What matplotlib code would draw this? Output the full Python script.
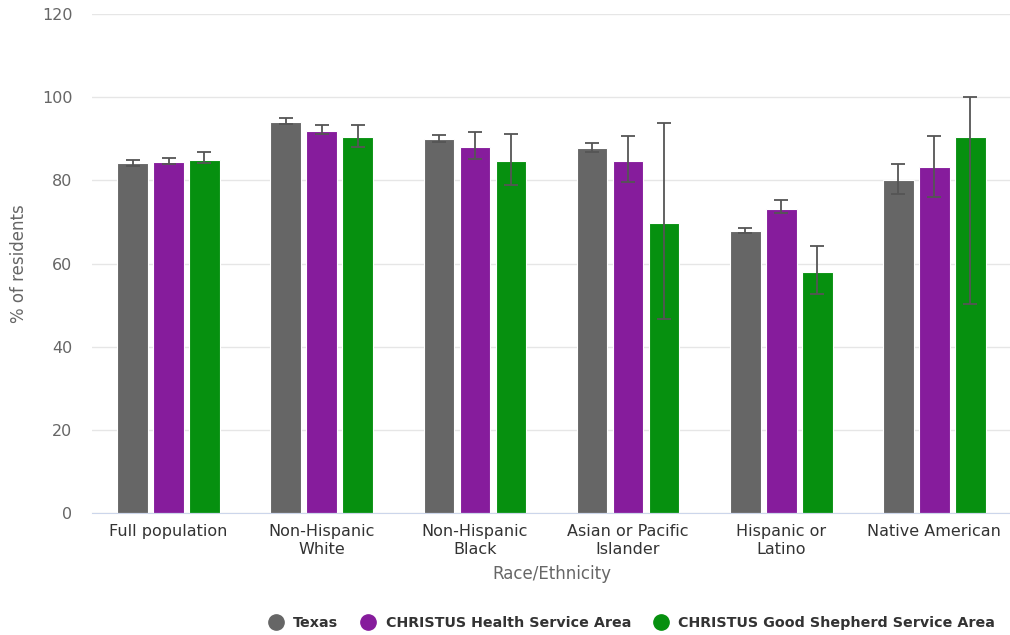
import numpy as np
import matplotlib
matplotlib.use("Agg")
import matplotlib.pyplot as plt
from matplotlib.lines import Line2D

categories = ["Full population", "Non-Hispanic\nWhite", "Non-Hispanic\nBlack",
              "Asian or Pacific\nIslander", "Hispanic or\nLatino", "Native American"]
series_names = ["Texas", "CHRISTUS Health Service Area", "CHRISTUS Good Shepherd Service Area"]
colors = ["#666666", "#861c9c", "#06900f"]

texas = [84.1, 94.0, 89.9, 87.7, 67.9, 80.0]
texas_lo = [83.4, 93.6, 89.3, 86.8, 67.4, 76.8]
texas_hi = [84.8, 94.9, 90.8, 88.9, 68.5, 83.9]

health = [84.4, 91.8, 88.1, 84.6, 73.2, 83.1]
health_lo = [84.0, 91.1, 85.2, 79.6, 72.1, 76.1]
health_hi = [85.3, 93.3, 91.7, 90.7, 75.3, 90.7]

shepherd = [85.0, 90.4, 84.6, 69.7, 57.9, 90.5]
shepherd_lo = [84.1, 88.0, 78.9, 46.7, 52.6, 50.2]
shepherd_hi = [86.8, 93.3, 91.1, 93.8, 64.1, 100.0]

values = [texas, health, shepherd]
lows = [texas_lo, health_lo, shepherd_lo]
highs = [texas_hi, health_hi, shepherd_hi]

fig = plt.figure(figsize=(10.1, 6.35), dpi=100)
ax = fig.add_axes([0.091, 0.192, 0.91, 0.786])

x = np.arange(len(categories))
width = 0.2
step = 0.235
for i in range(3):
    pos = x + (i - 1) * step
    v = np.array(values[i])
    err = [v - np.array(lows[i]), np.array(highs[i]) - v]
    ax.bar(pos, v, width, color=colors[i], edgecolor="white", linewidth=0.8, zorder=2)
    ax.errorbar(pos, v, yerr=err, fmt="none", ecolor="#555555", elinewidth=1.3,
                capsize=5, capthick=1.3, zorder=3)

ax.set_xlim(-0.5, len(categories) - 0.5)
ax.set_ylim(0, 120)
ax.set_yticks(range(0, 121, 20))
ax.grid(axis="y", color="#e6e6e6", linewidth=1, zorder=0)
ax.set_axisbelow(True)
for s in ["top", "right", "left"]:
    ax.spines[s].set_visible(False)
ax.spines["bottom"].set_color("#ccd6eb")
ax.tick_params(axis="y", length=0, labelsize=11.5, labelcolor="#666666", pad=14)
ax.tick_params(axis="x", length=0, labelsize=11.5, labelcolor="#333333", pad=8)
ax.set_xticks(x)
ax.set_xticklabels(categories)
ax.set_ylabel("% of residents", fontsize=12, color="#666666", labelpad=10)
ax.set_xlabel("Race/Ethnicity", fontsize=12, color="#666666", labelpad=6)

handles = [Line2D([0], [0], marker="o", linestyle="none", markersize=11,
                  markerfacecolor=c, markeredgecolor=c) for c in colors]
leg = fig.legend(handles, series_names, loc="lower right", bbox_to_anchor=(0.998, -0.012),
                 ncol=3, frameon=False, handletextpad=0.6, columnspacing=1.5,
                 handlelength=1.2, prop={"weight": "bold", "size": 10.3})
for t in leg.get_texts():
    t.set_color("#333333")

fig.savefig("out.png", dpi=100)
